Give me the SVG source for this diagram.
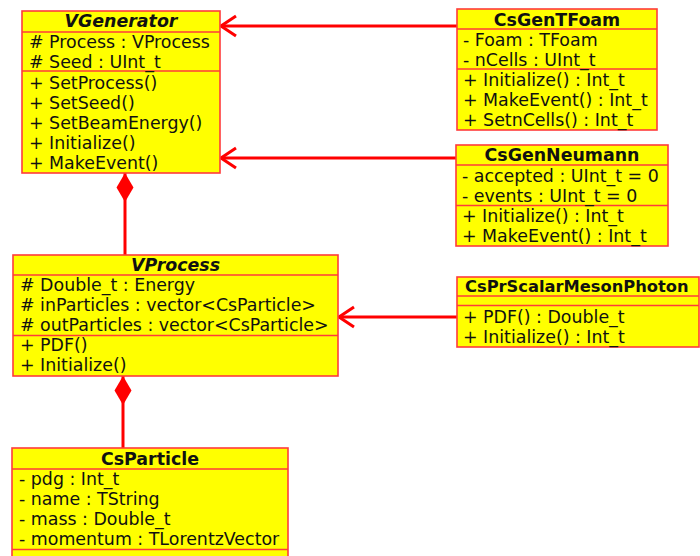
<svg xmlns="http://www.w3.org/2000/svg" width="700" height="556" viewBox="0 0 700 556">
<style>
.box{fill:#ffff00;stroke:#ff3b3b;stroke-width:1.6}
.sep{stroke:#ff3b3b;stroke-width:1.4}
text{font-family:"DejaVu Sans","Liberation Sans",sans-serif;font-size:17.4px;fill:#111}
.t{font-weight:bold;text-anchor:middle}
.ti{font-weight:bold;font-style:italic;text-anchor:middle}
.con{stroke:#ff0000;stroke-width:3;fill:none}
</style>
<defs>
<marker id="open" markerUnits="userSpaceOnUse" viewBox="-18 -13 20 26" refX="0" refY="0" markerWidth="20" markerHeight="26" orient="auto">
<path d="M-15,-10 L0,0 L-15,10" fill="none" stroke="#ff0000" stroke-width="3"/>
</marker>
<marker id="diamond" markerUnits="userSpaceOnUse" viewBox="-1 -10 32 20" refX="0" refY="0" markerWidth="32" markerHeight="20" orient="auto">
<path d="M0,0 L14.5,-8.5 L29,0 L14.5,8.5 Z" fill="#ff0000"/>
</marker>
</defs>
<g id="connectors">
<path class="con" d="M457,26 L221,26" marker-end="url(#open)"/>
<path class="con" d="M456,158 L221,158" marker-end="url(#open)"/>
<path class="con" d="M457,317 L339,317" marker-end="url(#open)"/>
<path class="con" d="M125,173 L125,255" marker-start="url(#diamond)"/>
<path class="con" d="M123,376 L123,448" marker-start="url(#diamond)"/>
</g>
<g id="VGenerator">
<rect class="box" x="22" y="11" width="198" height="162"/>
<line class="sep" x1="22" y1="32" x2="220" y2="32"/>
<line class="sep" x1="22" y1="71" x2="220" y2="71"/>
<text class="ti" x="121" y="27">VGenerator</text>
<text x="29" y="47.5"># Process : VProcess</text>
<text x="29" y="67.5"># Seed : UInt_t</text>
<text x="29" y="88.5">+ SetProcess()</text>
<text x="29" y="108.5">+ SetSeed()</text>
<text x="29" y="128.5">+ SetBeamEnergy()</text>
<text x="29" y="148.5">+ Initialize()</text>
<text x="29" y="168.5">+ MakeEvent()</text>
</g>
<g id="CsGenTFoam">
<rect class="box" x="457" y="9" width="200" height="121"/>
<line class="sep" x1="457" y1="29" x2="657" y2="29"/>
<line class="sep" x1="457" y1="69" x2="657" y2="69"/>
<text class="t" x="557" y="26">CsGenTFoam</text>
<text x="463" y="46">- Foam : TFoam</text>
<text x="463" y="66">- nCells : UInt_t</text>
<text x="463" y="86">+ Initialize() : Int_t</text>
<text x="463" y="106">+ MakeEvent() : Int_t</text>
<text x="463" y="126">+ SetnCells() : Int_t</text>
</g>
<g id="CsGenNeumann">
<rect class="box" x="456" y="145" width="212" height="101"/>
<line class="sep" x1="456" y1="165" x2="668" y2="165"/>
<line class="sep" x1="456" y1="205.5" x2="668" y2="205.5"/>
<text class="t" x="562" y="161">CsGenNeumann</text>
<text x="462" y="181.5">- accepted : UInt_t = 0</text>
<text x="462" y="201.5">- events : UInt_t = 0</text>
<text x="462" y="221.5">+ Initialize() : Int_t</text>
<text x="462" y="241.5">+ MakeEvent() : Int_t</text>
</g>
<g id="VProcess">
<rect class="box" x="13" y="255" width="325" height="121"/>
<line class="sep" x1="13" y1="275" x2="338" y2="275"/>
<line class="sep" x1="13" y1="335.5" x2="338" y2="335.5"/>
<text class="ti" x="175.5" y="271">VProcess</text>
<text x="20" y="291"># Double_t : Energy</text>
<text x="20" y="311"># inParticles : vector&lt;CsParticle&gt;</text>
<text x="20" y="331"># outParticles : vector&lt;CsParticle&gt;</text>
<text x="20" y="351">+ PDF()</text>
<text x="20" y="371">+ Initialize()</text>
</g>
<g id="CsPrScalarMesonPhoton">
<rect class="box" x="457" y="277" width="242" height="70"/>
<line class="sep" x1="457" y1="296" x2="699" y2="296"/>
<line class="sep" x1="457" y1="305.5" x2="699" y2="305.5"/>
<text x="465" y="292" font-weight="bold" style="font-size:16.3px">CsPrScalarMesonPhoton</text>
<text x="463" y="322.5">+ PDF() : Double_t</text>
<text x="463" y="342.5">+ Initialize() : Int_t</text>
</g>
<g id="CsParticle">
<rect class="box" x="12" y="448" width="276" height="130"/>
<line class="sep" x1="12" y1="469" x2="288" y2="469"/>
<line class="sep" x1="12" y1="549.5" x2="288" y2="549.5"/>
<text class="t" x="150" y="465">CsParticle</text>
<text x="19" y="485">- pdg : Int_t</text>
<text x="19" y="505">- name : TString</text>
<text x="19" y="525">- mass : Double_t</text>
<text x="19" y="545">- momentum : TLorentzVector</text>
</g>
</svg>
